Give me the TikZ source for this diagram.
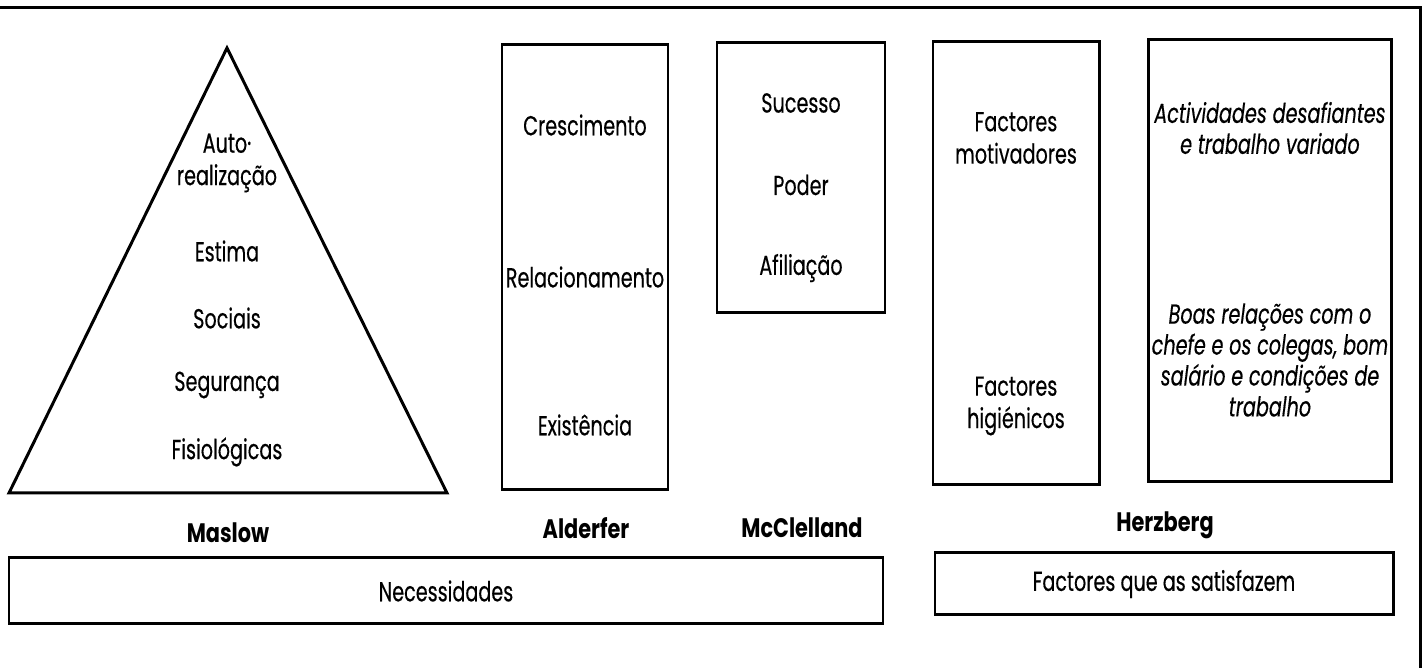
\documentclass[tikz,border=0pt]{standalone}
\usepackage{fontspec}
\newfontfamily\geofont{Poppins}[FakeStretch=0.70, FakeBold=0.4]
\newfontfamily\geoname{Poppins}[FakeStretch=0.78]
\usepackage{tikz}
\usetikzlibrary{positioning,calc}

\begin{document}
\begin{tikzpicture}[line width=0.85pt,
  every node/.style={font=\geofont\fontsize{7.8}{9.2}\selectfont, align=center, inner sep=1pt},
  author/.style={font=\geoname\bfseries\fontsize{7.6}{9.2}\selectfont},
  hint/.style={font=\geofont\itshape\fontsize{7.8}{8.8}\selectfont}]
\useasboundingbox (0,0) rectangle (14.28,6.68);
\draw (0,6.60) -- (14.20,6.60) -- (14.20,0);

% Maslow
\draw (2.27,6.20) -- (0.09,1.75) -- (4.47,1.75) -- cycle;
\node (auto) at (2.27,5.05) {Auto·\\realização};
\foreach \y/\t/\n in {4.17/Estima/estima, 3.50/Sociais/sociais, 2.83/Segurança/seg, 2.16/Fisiológicas/fisio}
  \node (\n) at (2.27,\y) {\t};
\node[author] (maslow) at (2.28,1.35) {Maslow};

% Alderfer
\draw (5.02,1.78) rectangle (6.68,6.23);
\node (cresc) at (5.85,5.43) {Crescimento};
\node (relac) at (5.85,3.91) {Relacionamento};
\node (exist) at (5.85,2.43) {Existência};
\node[author] (alderfer) at (5.86,1.40) {Alderfer};

% McClelland
\draw (7.17,3.55) rectangle (8.85,6.25);
\foreach \y/\t/\n in {5.65/Sucesso/sucesso, 4.83/Poder/poder, 4.00/Afiliação/afil}
  \node (\n) at (8.01,\y) {\t};
\node[author] (mcc) at (8.02,1.40) {McClelland};

% Herzberg
\draw (9.33,1.83) rectangle (10.99,6.26);
\node (motiv) at (10.16,5.30) {Factores\\motivadores};
\node (higien) at (10.16,2.62) {Factores\\higiénicos};
\draw (11.48,1.86) rectangle (13.91,6.28);
\node[hint] (desaf) at (12.70,5.40) {Actividades desafiantes\\e trabalho variado};
\node[hint] (boas) at (12.70,3.08) {Boas relações com o\\chefe e os colegas, bom\\salário e condições de\\trabalho};
\node[author] (herz) at (11.65,1.43) {Herzberg};

\draw (0.09,0.44) rectangle (8.83,1.10); \node (necess) at (4.46,0.77) {Necessidades};
\draw (9.35,0.53) rectangle (13.93,1.15); \node (satisf) at (11.64,0.84) {Factores que as satisfazem};
\end{tikzpicture}
\end{document}
